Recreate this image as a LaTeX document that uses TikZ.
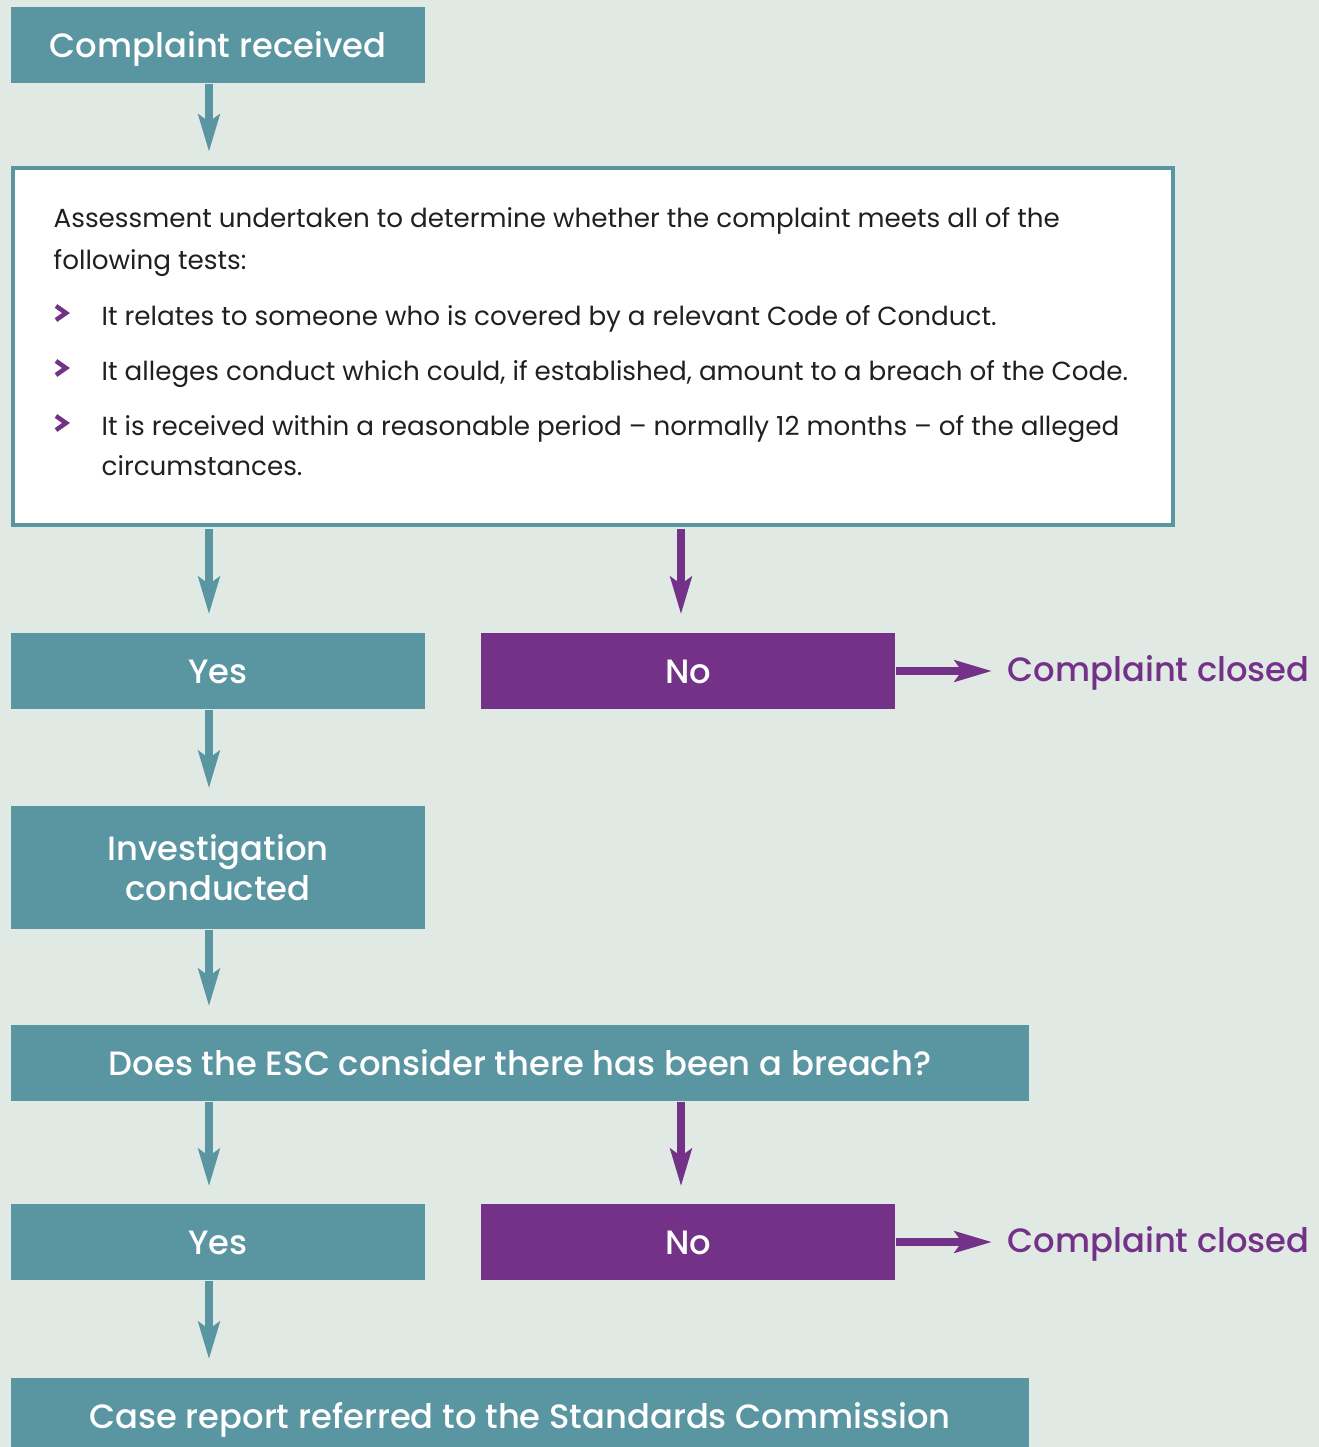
\documentclass[tikz,border=0pt]{standalone}
\usepackage{fontspec}
\usetikzlibrary{arrows.meta}
\setmainfont{Poppins}
\newfontfamily\headfont{Poppins Medium}
\definecolor{bgcol}{HTML}{E0E9E4}
\definecolor{tealc}{HTML}{5A95A2}
\definecolor{plum}{HTML}{733287}
\definecolor{ink}{HTML}{231F20}
\tikzset{
  flowbox/.style={text=white, font=\headfont\fontsize{9.6}{11.4}\selectfont, minimum width=4.14cm, minimum height=0.76cm, inner sep=0pt, align=center},
  oneline/.style={text height=0.7em, text depth=0pt},
  yesbox/.style={flowbox, oneline, fill=tealc},
  nobox/.style={flowbox, oneline, fill=plum},
  widebox/.style={yesbox, minimum width=10.18cm},
  closedtext/.style={text=plum, font=\headfont\fontsize{9.6}{11.4}\selectfont, oneline, anchor=west, inner sep=0pt},
  bodytext/.style={text=ink, font=\fontsize{7.45}{11}\selectfont, anchor=base west, inner sep=0pt},
  tarr/.style={tealc, line width=0.08cm, -{Stealth[length=0.37cm, width=0.21cm, inset=0.07cm]}},
  parr/.style={tarr, plum}
}
\begin{document}
\begin{tikzpicture}[x=0.01cm, y=-0.01cm]
\useasboundingbox (0,0) rectangle (1319,1447);
\clip (0,0) rectangle (1319,1447);
\fill[bgcol] (0,0) rectangle (1319,1447);
\coordinate (tcol) at (209,0);
\coordinate (pcol) at (681,0);

\node[yesbox] (recv) at (218,45) {Complaint received};
\node[draw=tealc, line width=0.04cm, fill=white, minimum width=11.6cm, minimum height=3.57cm, inner sep=0pt] (assess) at (593,346.5) {};
\node[bodytext] (intro1) at (53,227) {Assessment undertaken to determine whether the complaint meets all of the};
\node[bodytext] (intro2) at (53,269) {following tests:};
\node[bodytext] (test1) at (101,325) {It relates to someone who is covered by a relevant Code of Conduct.};
\node[bodytext] (test2) at (101,380) {It alleges conduct which could, if established, amount to a breach of the Code.};
\node[bodytext] (test3) at (101,435) {It is received within a reasonable period – normally 12 months – of the alleged};
\node[bodytext] (test3b) at (101,475) {circumstances.};
\foreach \y in {325,380,435}
  \draw[plum, line width=0.045cm] (56,\y-19) -- (66,\y-12) -- (56,\y-5);

\node[yesbox] (yes1) at (218,671) {Yes};
\node[nobox] (no1) at (688,671) {No};
\node[closedtext] (closed1) at (1007,669) {Complaint closed};
\node[flowbox, fill=tealc, minimum height=1.23cm] (invest) at (218,867.5) {Investigation\\conducted};
\node[widebox] (breach) at (520,1063) {Does the ESC consider there has been a breach?};
\node[yesbox] (yes2) at (218,1242) {Yes};
\node[nobox] (no2) at (688,1242) {No};
\node[closedtext] (closed2) at (1007,1240) {Complaint closed};
\node[widebox] (report) at (520,1416) {Case report referred to the Standards Commission};

\draw[tarr, shorten >=0.14cm] (recv.south -| tcol) -- (assess.north -| tcol);
\draw[tarr, shorten <=0.02cm, shorten >=0.18cm] (assess.south -| tcol) -- (yes1.north -| tcol);
\draw[parr, shorten <=0.02cm, shorten >=0.18cm] (assess.south -| pcol) -- (no1.north -| pcol);
\draw[parr, shorten >=0.15cm] (no1.east) -- (closed1.west |- no1.east);
\draw[tarr, shorten >=0.17cm] (yes1.south -| tcol) -- (invest.north -| tcol);
\draw[tarr, shorten >=0.18cm] (invest.south -| tcol) -- (breach.north -| tcol);
\draw[tarr, shorten >=0.17cm] (breach.south -| tcol) -- (yes2.north -| tcol);
\draw[parr, shorten >=0.17cm] (breach.south -| pcol) -- (no2.north -| pcol);
\draw[parr, shorten >=0.15cm] (no2.east) -- (closed2.west |- no2.east);
\draw[tarr, shorten >=0.18cm] (yes2.south -| tcol) -- (report.north -| tcol);
\end{tikzpicture}
\end{document}
